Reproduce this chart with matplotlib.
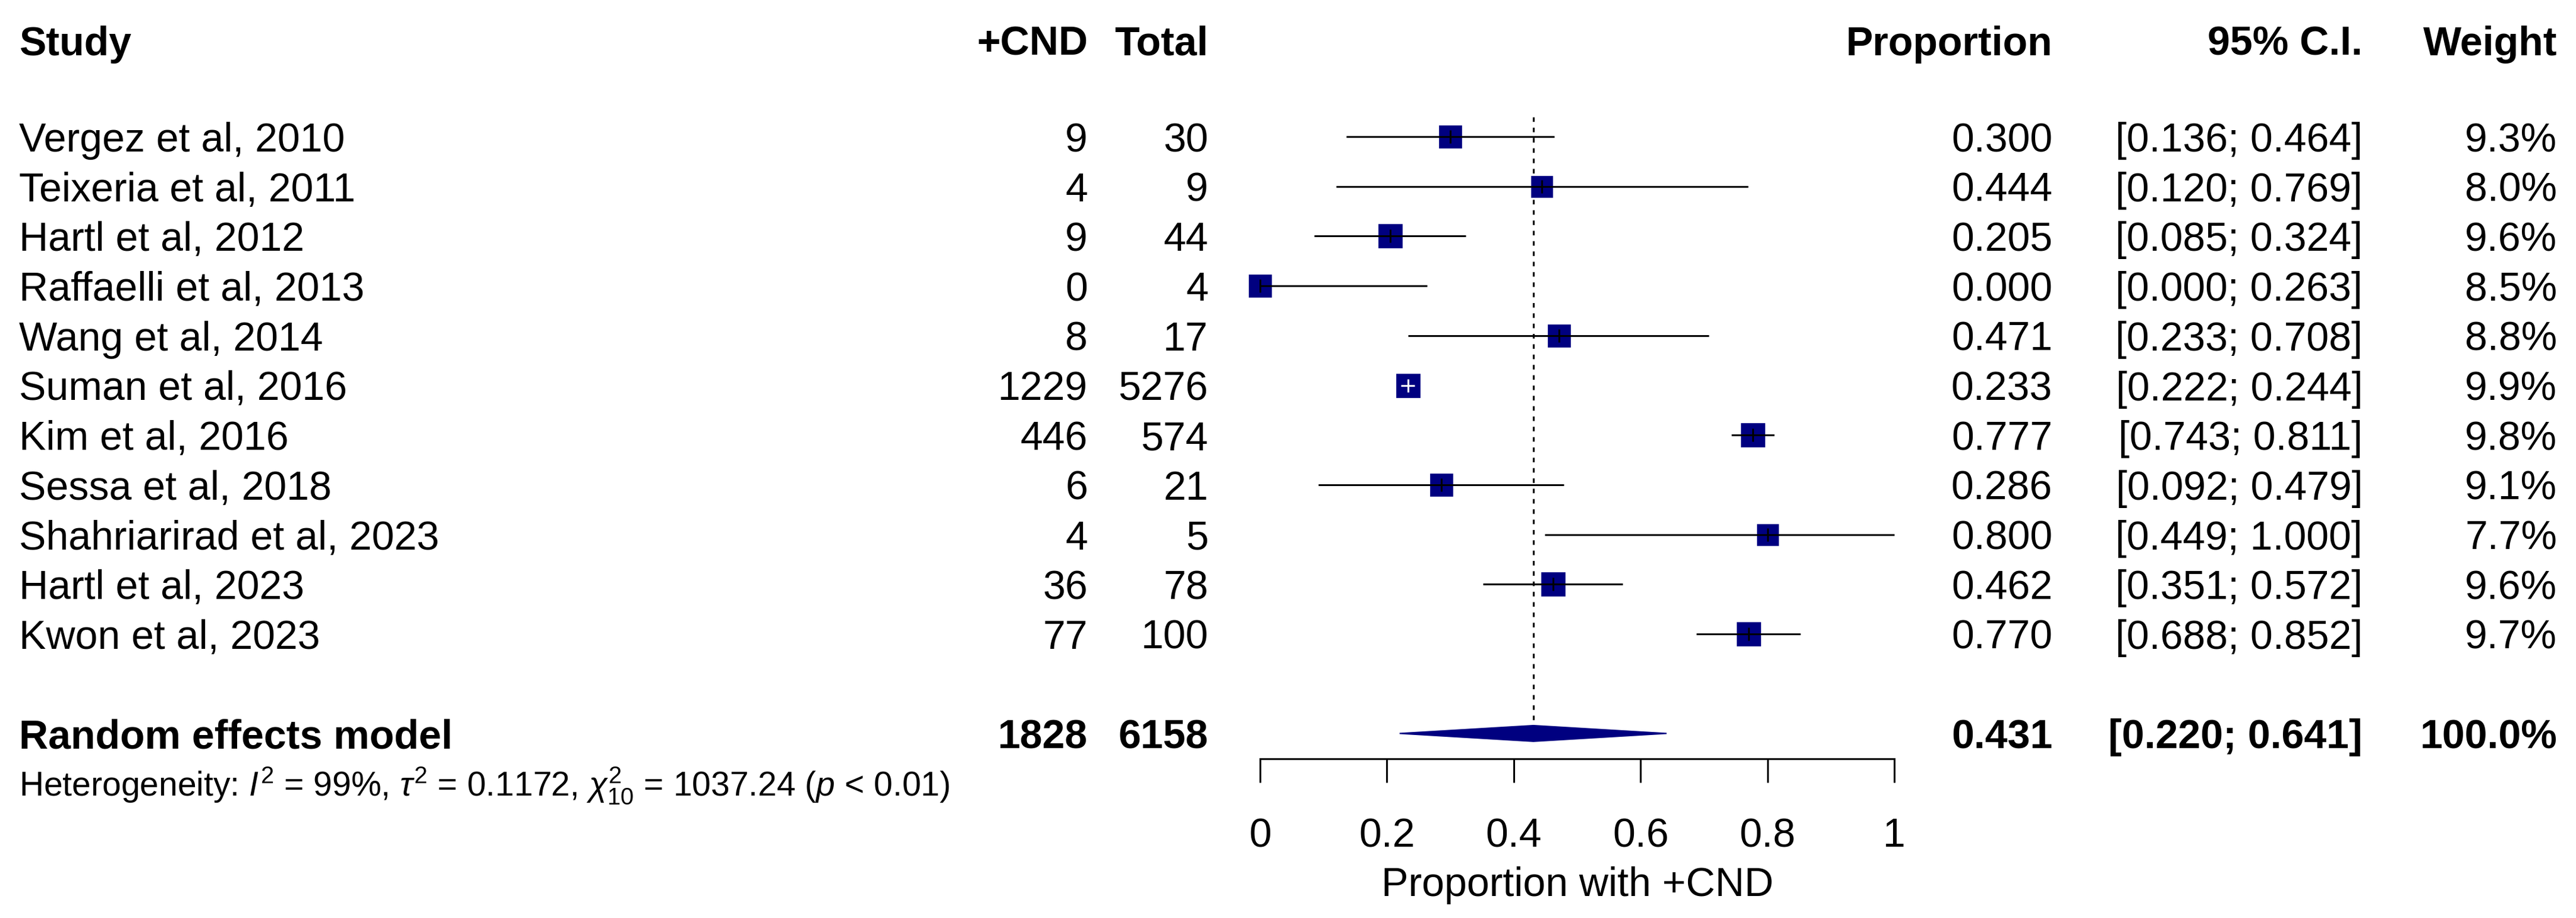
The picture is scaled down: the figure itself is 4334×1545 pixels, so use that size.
import numpy as np
import matplotlib.pyplot as plt
from matplotlib.transforms import blended_transform_factory
from matplotlib.patches import Polygon

plt.rcParams['font.family'] = ['Liberation Sans', 'DejaVu Sans']
plt.rcParams['mathtext.fontset'] = 'custom'
plt.rcParams['mathtext.rm'] = 'Liberation Sans'
plt.rcParams['mathtext.it'] = 'Liberation Sans:italic'
plt.rcParams['lines.scale_dashes'] = False

# Study data
studies = ["Vergez et al, 2010", "Teixeria et al, 2011", "Hartl et al, 2012",
           "Raffaelli et al, 2013", "Wang et al, 2014", "Suman et al, 2016",
           "Kim et al, 2016", "Sessa et al, 2018", "Shahriarirad et al, 2023",
           "Hartl et al, 2023", "Kwon et al, 2023"]
events = [9, 4, 9, 0, 8, 1229, 446, 6, 4, 36, 77]
totals = [30, 9, 44, 4, 17, 5276, 574, 21, 5, 78, 100]
prop = [0.300, 0.444, 0.205, 0.000, 0.471, 0.233, 0.777, 0.286, 0.800, 0.462, 0.770]
lower = [0.136, 0.120, 0.085, 0.000, 0.233, 0.222, 0.743, 0.092, 0.449, 0.351, 0.688]
upper = [0.464, 0.769, 0.324, 0.263, 0.708, 0.244, 0.811, 0.479, 1.000, 0.572, 0.852]
weight = [9.3, 8.0, 9.6, 8.5, 8.8, 9.9, 9.8, 9.1, 7.7, 9.6, 9.7]

# Random effects summary
pooled_events = 1828
pooled_total = 6158
pooled_prop = 0.431
pooled_lower = 0.220
pooled_upper = 0.641
pooled_weight = 100.0

het_text = (r"Heterogeneity: $I^2$ = 99%, $\tau^2$ = 0.1172, "
            r"$\chi^2_{10}$ = 1037.24 ($p$ < 0.01)")

xticks = [0, 0.2, 0.4, 0.6, 0.8, 1]
xtick_labels = ["0", "0.2", "0.4", "0.6", "0.8", "1"]

# Layout (pixels)
W, H, DPI = 4334, 1545, 100
x0_px, x1_px = 2120, 3187
row0_px, row_px = 230, 83.7
axis_px = 1277
top_row = -2.5
bottom_row = (axis_px - row0_px) / row_px
top_px = row0_px + top_row * row_px

navy = "#000080"
fs = 49
fs_small = 41

fig = plt.figure(figsize=(W / DPI, H / DPI), dpi=DPI)
ax = fig.add_axes([x0_px / W, 1 - axis_px / H,
                   (x1_px - x0_px) / W, (axis_px - top_px) / H])
ax.set_xlim(0, 1)
ax.set_ylim(bottom_row, top_row)

n = len(studies)
rows = np.arange(n)
summary_row = n + 1
het_row = summary_row + 0.95
header_row = -1.94

# reference line at pooled estimate
ax.plot([pooled_prop, pooled_prop], [-0.39, summary_row - 0.21],
        color="black", lw=2.2, ls=(0, (5.5, 7)), zorder=1)

# squares + CIs
px_per_unit = x1_px - x0_px
for i in range(n):
    side_px = 40 * np.sqrt(weight[i] / 9.9)
    half = side_px / 2 / px_per_unit
    inside = (prop[i] - lower[i]) < half and (upper[i] - prop[i]) < half
    lc = "white" if inside else "black"
    ax.plot(prop[i], rows[i], marker="s", ms=side_px * 0.72, color=navy,
            mec=navy, mew=0.5, ls="none", zorder=2, clip_on=False)
    ax.plot([lower[i], upper[i]], [rows[i], rows[i]], color=lc, lw=2.2,
            solid_capstyle="butt", zorder=3, clip_on=False)
    ax.plot(prop[i], rows[i], marker="|", ms=16, mew=2.2, color=lc,
            ls="none", zorder=4, clip_on=False)

# diamond
dh = 0.16
diamond = Polygon([[pooled_lower, summary_row], [pooled_prop, summary_row - dh],
                   [pooled_upper, summary_row], [pooled_prop, summary_row + dh]],
                  closed=True, facecolor=navy, edgecolor=navy, lw=1.5, zorder=3)
ax.add_patch(diamond)

# axis styling
for s in ["top", "left", "right"]:
    ax.spines[s].set_visible(False)
ax.spines["bottom"].set_linewidth(2.2)
ax.set_yticks([])
ax.set_xticks(xticks)
ax.set_xticklabels(xtick_labels)
ax.tick_params(axis="x", length=28.8, width=2.2, pad=42, labelsize=fs,
               direction="out")
ax.set_xlabel("Proportion with +CND", fontsize=fs)
ax.xaxis.set_label_coords(0.5, -(1458 - axis_px) / (axis_px - top_px))
ax.patch.set_visible(False)

# text columns
tr = blended_transform_factory(fig.transFigure, ax.transData)
col_study = 32 / W
col_events = 1830 / W
col_total = 2033 / W
col_prop = 3453 / W
col_ci = 3975 / W
col_w = 4302 / W


def put(x, y, s, ha="right", bold=False, size=fs):
    fig.text(x, y, s, transform=tr, ha=ha, va="center_baseline",
             fontsize=size, fontweight="bold" if bold else "normal")


put(col_study, header_row, "Study", ha="left", bold=True)
put(col_events, header_row, "+CND", bold=True)
put(col_total, header_row, "Total", bold=True)
put(col_prop, header_row, "Proportion", bold=True)
put(col_ci, header_row, "95% C.I.", bold=True)
put(col_w, header_row, "Weight", bold=True)

for i in range(n):
    put(col_study, rows[i], studies[i], ha="left")
    put(col_events, rows[i], f"{events[i]}")
    put(col_total, rows[i], f"{totals[i]}")
    put(col_prop, rows[i], f"{prop[i]:.3f}")
    put(col_ci, rows[i], f"[{lower[i]:.3f}; {upper[i]:.3f}]")
    put(col_w, rows[i], f"{weight[i]:.1f}%")

put(col_study, summary_row, "Random effects model", ha="left", bold=True)
put(col_events, summary_row, f"{pooled_events}", bold=True)
put(col_total, summary_row, f"{pooled_total}", bold=True)
put(col_prop, summary_row, f"{pooled_prop:.3f}", bold=True)
put(col_ci, summary_row, f"[{pooled_lower:.3f}; {pooled_upper:.3f}]", bold=True)
put(col_w, summary_row, f"{pooled_weight:.1f}%", bold=True)

put(col_study, het_row, het_text, ha="left", size=fs_small)

fig.savefig("out.png", dpi=DPI)
